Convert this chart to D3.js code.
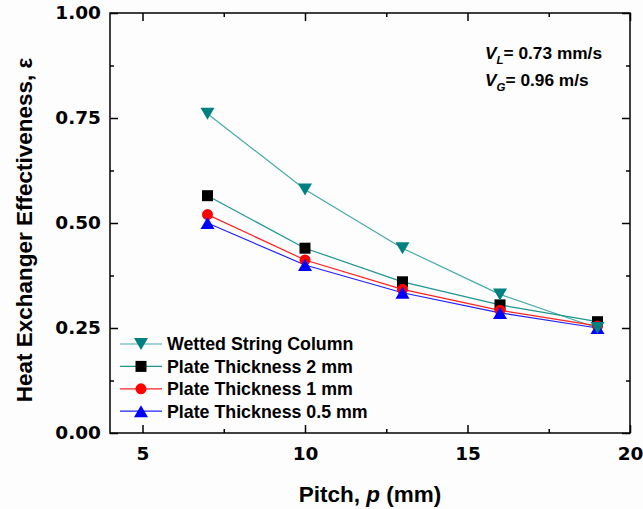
<!DOCTYPE html>
<html><head><meta charset="utf-8">
<script src="https://cdn.jsdelivr.net/npm/d3@7"></script>
<style>body{margin:0;background:#fdfdfd}svg{display:block;font-family:Arial,"Liberation Sans",sans-serif}</style>
</head><body><div id="c"></div>
<script>
const pitch = [7, 10, 13, 16, 19];
const wetted = [0.76, 0.58, 0.44, 0.33, 0.25];
const plate2 = [0.565, 0.44, 0.36, 0.305, 0.265];
const plate1 = [0.52, 0.412, 0.342, 0.292, 0.255];
const plate05 = [0.50, 0.40, 0.334, 0.286, 0.25];
const seriesNames = ["Wetted String Column", "Plate Thickness 2 mm", "Plate Thickness 1 mm", "Plate Thickness 0.5 mm"];
const xTicks = [5, 10, 15, 20];
const yTicks = [0, 0.25, 0.5, 0.75, 1.0];

const W = 643, H = 509;
const m = {l: 110, r: 13, t: 13, b: 76};
const svg = d3.select("#c").append("svg").attr("width", W).attr("height", H);
svg.append("rect").attr("width", W).attr("height", H).attr("fill", "#fdfdfd");
const x = d3.scaleLinear().domain([4, 20]).range([m.l, W - m.r]);
const y = d3.scaleLinear().domain([0, 1]).range([H - m.b, m.t]);
const tickFont = "'DejaVu Sans', Arial, sans-serif";

const series = [
  {name: seriesNames[0], v: wetted, lineC: "#45aaa5", mk: "#008080", shape: "tdown"},
  {name: seriesNames[1], v: plate2, lineC: "#1f9490", mk: "#000000", shape: "square"},
  {name: seriesNames[2], v: plate1, lineC: "#ff2020", mk: "#ff0000", shape: "circle"},
  {name: seriesNames[3], v: plate05, lineC: "#2020ff", mk: "#0000ff", shape: "tup"}
];

function marker(g, shape, cx, cy, col) {
  if (shape === "square") g.append("rect").attr("x", cx - 5.5).attr("y", cy - 5.5).attr("width", 11).attr("height", 11).attr("fill", col);
  else if (shape === "circle") g.append("circle").attr("cx", cx).attr("cy", cy).attr("r", 5.5).attr("fill", col);
  else if (shape === "tdown") g.append("path").attr("d", `M${cx-7},${cy-6}L${cx+7},${cy-6}L${cx},${cy+6}Z`).attr("fill", col);
  else g.append("path").attr("d", `M${cx-7},${cy+6}L${cx+7},${cy+6}L${cx},${cy-6}Z`).attr("fill", col);
}

series.forEach(s => {
  svg.append("path").datum(s.v).attr("fill", "none").attr("stroke", s.lineC).attr("stroke-width", 1.2)
    .attr("d", d3.line().x((d, i) => x(pitch[i])).y(d => y(d)));
});
[series[1], series[2], series[3], series[0]].forEach(s => {
  const g = svg.append("g");
  s.v.forEach((d, i) => marker(g, s.shape, x(pitch[i]), y(d), s.mk));
});

svg.append("rect").attr("x", m.l).attr("y", m.t).attr("width", W - m.r - m.l).attr("height", H - m.b - m.t)
  .attr("fill", "none").attr("stroke", "#000").attr("stroke-width", 1.5);

const xMinor = [7.5, 12.5, 17.5];
const yMinor = [0.125, 0.375, 0.625, 0.875];
function clean(g) { g.select(".domain").remove(); g.selectAll("line").attr("stroke-width", 1.5); return g; }

const gx = clean(svg.append("g").attr("transform", `translate(0,${H - m.b})`)
  .call(d3.axisBottom(x).tickValues(xTicks).tickSize(-8).tickPadding(14).tickFormat(d3.format("d"))));
gx.selectAll("text").attr("font-size", 18.5).attr("font-weight", "bold").attr("fill", "#000").attr("font-family", tickFont);
clean(svg.append("g").attr("transform", `translate(0,${H - m.b})`).call(d3.axisBottom(x).tickValues(xMinor).tickSize(-4).tickFormat("")));
clean(svg.append("g").attr("transform", `translate(0,${m.t})`).call(d3.axisTop(x).tickValues(xTicks).tickSize(-8).tickFormat("")));
clean(svg.append("g").attr("transform", `translate(0,${m.t})`).call(d3.axisTop(x).tickValues(xMinor).tickSize(-4).tickFormat("")));

const gy = clean(svg.append("g").attr("transform", `translate(${m.l},0)`)
  .call(d3.axisLeft(y).tickValues(yTicks).tickSize(-8).tickPadding(9).tickFormat(d3.format(".2f"))));
gy.selectAll("text").attr("font-size", 18.5).attr("font-weight", "bold").attr("fill", "#000").attr("font-family", tickFont);
clean(svg.append("g").attr("transform", `translate(${m.l},0)`).call(d3.axisLeft(y).tickValues(yMinor).tickSize(-4).tickFormat("")));
clean(svg.append("g").attr("transform", `translate(${W - m.r},0)`).call(d3.axisRight(y).tickValues(yTicks).tickSize(-8).tickFormat("")));
clean(svg.append("g").attr("transform", `translate(${W - m.r},0)`).call(d3.axisRight(y).tickValues(yMinor).tickSize(-4).tickFormat("")));

const xt = svg.append("text").attr("x", 370).attr("y", 502).attr("text-anchor", "middle")
  .attr("font-size", 22.5).attr("font-weight", "bold");
xt.append("tspan").text("Pitch, ");
xt.append("tspan").attr("font-style", "italic").text("p");
xt.append("tspan").text(" (mm)");
svg.append("text").attr("transform", `translate(32,230) rotate(-90)`).attr("text-anchor", "middle")
  .attr("font-size", 22.5).attr("font-weight", "bold").text("Heat Exchanger Effectiveness, ε");

function annot(yy, sub, rest) {
  const t = svg.append("text").attr("x", 485).attr("y", yy).attr("font-size", 17.3).attr("font-weight", "bold");
  t.append("tspan").attr("font-style", "italic").text("V");
  t.append("tspan").attr("font-style", "italic").attr("font-size", 11.5).attr("dy", 5).text(sub);
  t.append("tspan").attr("dy", -5).text(rest);
}
annot(59, "L", "= 0.73 mm/s");
annot(86, "G", "= 0.96 m/s");

const lg = svg.append("g");
const ly0 = 344, ldy = 22.4;
series.forEach((s, i) => {
  const yy = ly0 + i * ldy;
  lg.append("line").attr("x1", 120).attr("x2", 162).attr("y1", yy).attr("y2", yy).attr("stroke", s.lineC).attr("stroke-width", 1.2);
  marker(lg, s.shape, 141, yy, s.mk);
  lg.append("text").attr("x", 167).attr("y", yy + 6.3).attr("font-size", 17.8).attr("font-weight", "bold").text(s.name);
});
</script></body></html>
